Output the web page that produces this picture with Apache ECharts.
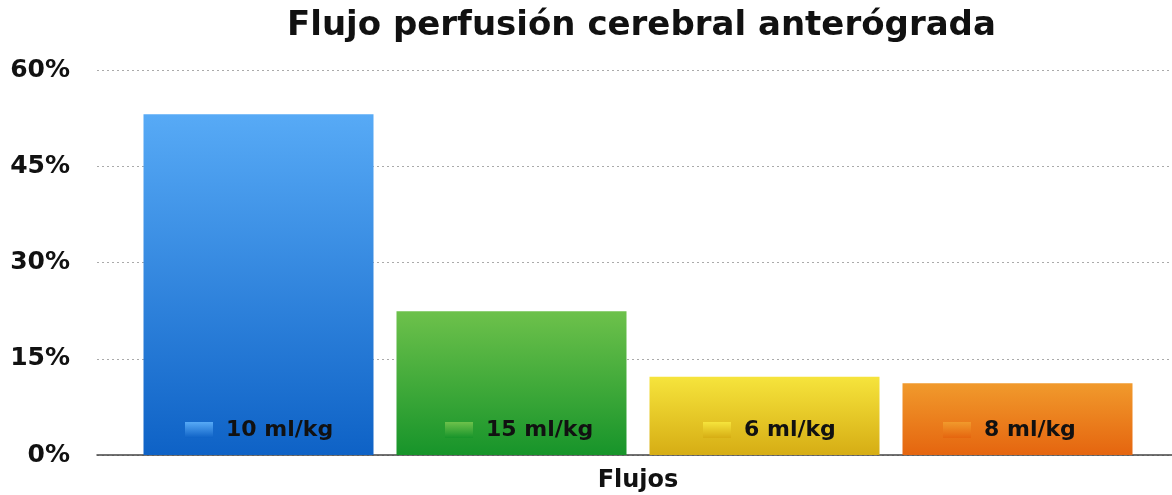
<!DOCTYPE html>
<html>
<head>
<meta charset="utf-8">
<script src="https://cdn.jsdelivr.net/npm/echarts@6/dist/echarts.min.js"></script>
<style>html,body{margin:0;padding:0;background:#fff}#c{width:1172px;height:495px}</style>
</head>
<body>
<div id="c"></div>
<script>
const categories = ['Flujos'];
const seriesNames = ['10 ml/kg', '15 ml/kg', '6 ml/kg', '8 ml/kg'];
const seriesValues = [53.1, 22.4, 12.2, 11.2];
const yTicks = [0, 15, 30, 45, 60];

const gradients = [
  ['#57aaf6', '#0e62c6'],
  ['#6dc14b', '#17942a'],
  ['#f6e43c', '#d6ad14'],
  ['#f19a2c', '#e5650f']
];
const legendLefts = [180, 440, 698, 938];

const chart = echarts.init(document.getElementById('c'));
const font = 'DejaVu Sans, Liberation Sans, sans-serif';

const series = seriesNames.map((n, i) => ({
  name: n,
  type: 'bar',
  xAxisIndex: 1,
  yAxisIndex: 1,
  data: [seriesValues[i]],
  barWidth: 230,
  barGap: '10%',
  itemStyle: {
    color: new echarts.graphic.LinearGradient(0, 0, 0, 1, [
      { offset: 0, color: gradients[i][0] },
      { offset: 1, color: gradients[i][1] }
    ])
  }
}));

const legends = seriesNames.map((n, i) => ({
  data: [n],
  left: legendLefts[i],
  top: 414,
  itemWidth: 28,
  itemHeight: 16,
  itemGap: 0,
  textStyle: { fontFamily: font, fontWeight: 'bold', fontSize: 22, color: '#111', padding: [0, 0, 0, 8] },
  selectedMode: false,
  icon: 'rect'
}));

const yMin = yTicks[0], yMax = yTicks[yTicks.length - 1];

chart.setOption({
  animation: false,
  title: {
    text: 'Flujo perfusión cerebral anterógrada',
    left: 282,
    top: 4,
    textStyle: { fontFamily: font, fontWeight: 'bold', fontSize: 34, color: '#111' }
  },
  legend: legends,
  grid: [
    { left: 97, right: 0, top: 70, bottom: 40 },
    { left: 104, right: 0, top: 70, bottom: 40 }
  ],
  xAxis: [
    {
      type: 'category', gridIndex: 0, data: categories,
      axisLine: { lineStyle: { color: '#444', width: 1.5 } },
      axisTick: { show: false }, axisLabel: { show: false }
    },
    {
      type: 'category', gridIndex: 1, data: categories,
      axisLine: { show: false }, axisTick: { show: false },
      axisLabel: { fontFamily: font, fontWeight: 'bold', fontSize: 24, color: '#111', margin: 14 }
    }
  ],
  yAxis: [
    {
      type: 'value', gridIndex: 0, min: yMin, max: yMax, interval: 15,
      axisLine: { show: false }, axisTick: { show: false },
      axisLabel: {
        fontFamily: font, fontWeight: 'bold', fontSize: 25, color: '#111', margin: 27,
        formatter: v => v + '%'
      },
      splitLine: { lineStyle: { color: '#aaa', type: [2, 3], width: 1 } }
    },
    {
      type: 'value', gridIndex: 1, min: yMin, max: yMax, interval: 15,
      show: false, splitLine: { show: false }
    }
  ],
  series: series
});
</script>
</body>
</html>
